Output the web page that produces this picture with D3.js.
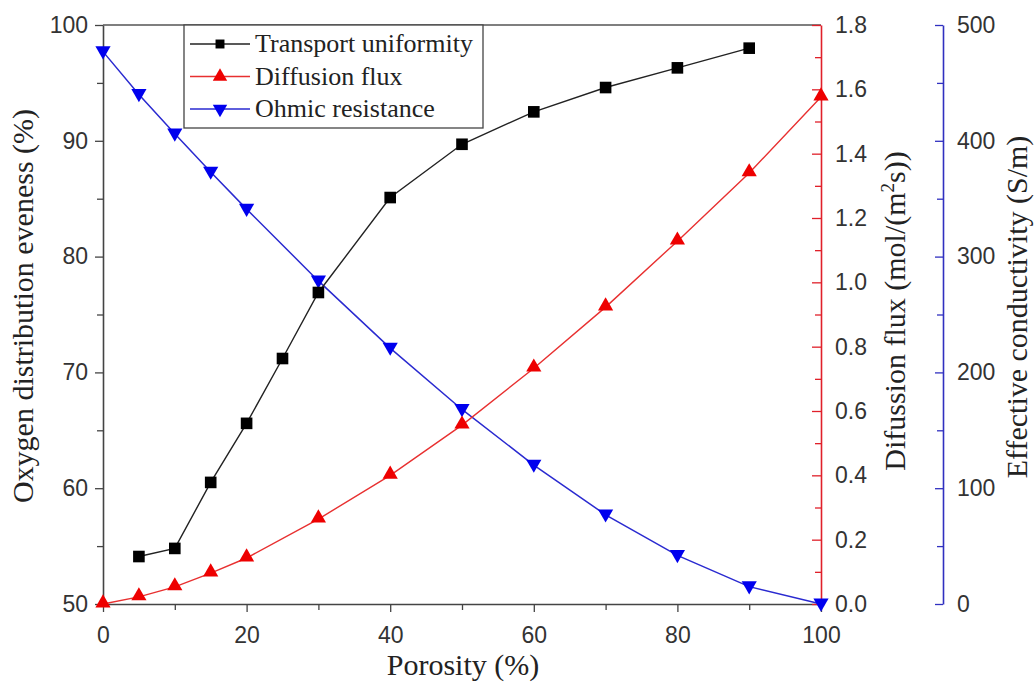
<!DOCTYPE html>
<html>
<head>
<meta charset="utf-8">
<script src="https://cdn.jsdelivr.net/npm/d3@7"></script>
<style>
  body { margin: 0; background: #fff; }
</style>
</head>
<body>
<div id="chart"></div>
<script>
// data
var porosity     = [5, 10, 15, 20, 25, 30, 40, 50, 60, 70, 80, 90];
var uniformity   = [54.1, 54.8, 60.5, 65.6, 71.2, 76.9, 85.1, 89.7, 92.5, 94.6, 96.3, 98.0];

var porosity2    = [0, 5, 10, 15, 20, 30, 40, 50, 60, 70, 80, 90, 100];
var flux         = [0.0, 0.022, 0.053, 0.096, 0.143, 0.264, 0.40, 0.556, 0.733, 0.923, 1.128, 1.34, 1.576];
var conductivity = [477, 440, 406, 373, 341, 279, 221, 168, 120, 77, 42, 15, 0];

var xTicks = [0, 20, 40, 60, 80, 100];
var names  = ["Transport uniformity", "Diffusion flux", "Ohmic resistance"];

const W = 1034, H = 684;
var pL = 103, pR = 821, pT = 25, pB = 604, blueX = 943;

var svg = d3.select("#chart").append("svg")
  .attr("width", W).attr("height", H);

var x  = d3.scaleLinear().domain([0, 100]).range([pL, pR]);
var yL = d3.scaleLinear().domain([50, 100]).range([pB, pT]);
var yR = d3.scaleLinear().domain([0, 1.8]).range([pB, pT]);
var yB = d3.scaleLinear().domain([0, 500]).range([pB, pT]);

var tickFont = "'Liberation Sans', Arial, sans-serif";
var titleFont = "'Liberation Serif', 'Times New Roman', serif";

// top frame line
svg.append("line")
  .attr("x1", pL).attr("x2", pR).attr("y1", pT).attr("y2", pT)
  .attr("stroke", "#555").attr("stroke-width", 1.6);

// bottom axis
var gx = svg.append("g").attr("transform", "translate(0," + pB + ")")
  .call(d3.axisBottom(x).tickValues(d3.range(0, 101, 10)).tickSize(8).tickSizeOuter(0).tickPadding(15)
    .tickFormat(function(d){ return xTicks.indexOf(d) >= 0 ? d : ""; }));
gx.selectAll(".tick line").attr("y2", function(d){ return xTicks.indexOf(d) >= 0 ? 8 : 6; });

// left axis
var gl = svg.append("g").attr("transform", "translate(" + pL + ",0)")
  .call(d3.axisLeft(yL).tickValues(d3.range(50, 101, 5)).tickSize(8).tickSizeOuter(0)
    .tickFormat(function(d){ return d % 10 === 0 ? d : ""; }));
gl.selectAll(".tick line").attr("x2", function(d){ return d % 10 === 0 ? -8 : -6; });

// red axis, ticks point inward
var gr = svg.append("g").attr("transform", "translate(" + pR + ",0)")
  .call(d3.axisRight(yR).tickValues(d3.range(0, 19).map(function(i){ return i / 10; }))
    .tickSize(0).tickSizeOuter(0).tickPadding(14)
    .tickFormat(function(d, i){ return i % 2 === 0 ? d.toFixed(1) : ""; }));
gr.selectAll(".tick line").attr("x2", function(d, i){ return i % 2 === 0 ? -9 : -6; });

// blue axis
var gb = svg.append("g").attr("transform", "translate(" + blueX + ",0)")
  .call(d3.axisRight(yB).tickValues(d3.range(0, 501, 50))
    .tickSize(0).tickSizeOuter(0).tickPadding(14)
    .tickFormat(function(d){ return d % 100 === 0 ? d : ""; }));
gb.selectAll(".tick line").attr("x2", function(d){ return d % 100 === 0 ? -8 : -6; });

[gx, gl].forEach(function(g){
  g.select(".domain").attr("stroke", "#444").attr("stroke-width", 1.6);
  g.selectAll(".tick line").attr("stroke", "#444").attr("stroke-width", 1.3);
});
gr.select(".domain").attr("stroke", "#e0202a").attr("stroke-width", 1.6);
gr.selectAll(".tick line").attr("stroke", "#e0202a").attr("stroke-width", 1.3);
gb.select(".domain").attr("stroke", "#3030c0").attr("stroke-width", 1.6);
gb.selectAll(".tick line").attr("stroke", "#3030c0").attr("stroke-width", 1.3);

svg.selectAll(".tick text")
  .style("font-family", tickFont).style("font-size", "23px").attr("fill", "#333");
gl.selectAll(".tick text").attr("dx", "-4");

// series
var sq  = d3.symbol().type(d3.symbolSquare).size(135);
var tri = d3.symbol().type(d3.symbolTriangle).size(100);

var black = porosity.map(function(p, i){ return [p, uniformity[i]]; });
var red   = porosity2.map(function(p, i){ return [p, flux[i]]; });
var blue  = porosity2.map(function(p, i){ return [p, conductivity[i]]; });

function drawLine(data, ys, color, w) {
  svg.append("path").datum(data)
    .attr("fill", "none").attr("stroke", color).attr("stroke-width", w)
    .attr("d", d3.line().x(function(d){ return x(d[0]); }).y(function(d){ return ys(d[1]); }));
}
drawLine(blue, yB, "#2a2ad0", 1.5);
drawLine(red, yR, "#e83030", 1.4);
drawLine(black, yL, "#222", 1.4);

svg.selectAll(".mb").data(blue).enter().append("path")
  .attr("d", tri).attr("fill", "#0000ee")
  .attr("transform", function(d){ return "translate(" + x(d[0]) + "," + (yB(d[1]) - 1) + ") rotate(180)"; });
svg.selectAll(".mr").data(red).enter().append("path")
  .attr("d", tri).attr("fill", "#ee0000")
  .attr("transform", function(d){ return "translate(" + x(d[0]) + "," + (yR(d[1]) - 1) + ")"; });
svg.selectAll(".mk").data(black).enter().append("path")
  .attr("d", sq).attr("fill", "#000")
  .attr("transform", function(d){ return "translate(" + x(d[0]) + "," + yL(d[1]) + ")"; });

// legend
var lg = svg.append("g");
lg.append("rect").attr("x", 184).attr("y", pT).attr("width", 299).attr("height", 103)
  .attr("fill", "#fff").attr("stroke", "#444").attr("stroke-width", 1.3);
var legColors = ["#222", "#e83030", "#2a2ad0"];
var legFill = ["#000", "#ee0000", "#0000ee"];
names.forEach(function(n, i){
  var yy = 44 + i * 32.5;
  lg.append("line").attr("x1", 190).attr("x2", 250).attr("y1", yy).attr("y2", yy)
    .attr("stroke", legColors[i]).attr("stroke-width", 1.4);
  var sym = i === 0 ? d3.symbol().type(d3.symbolSquare).size(80) : d3.symbol().type(d3.symbolTriangle).size(90);
  lg.append("path").attr("d", sym).attr("fill", legFill[i])
    .attr("transform", "translate(220," + yy + ")" + (i === 2 ? " rotate(180)" : ""));
  lg.append("text").attr("x", 255).attr("y", yy + 8).text(n)
    .style("font-family", titleFont).style("font-size", "26px").attr("fill", "#222");
});

// axis titles
svg.append("text").attr("x", 463).attr("y", 675).attr("text-anchor", "middle")
  .style("font-family", titleFont).style("font-size", "30px").attr("fill", "#222")
  .text("Porosity (%)");

svg.append("text").attr("transform", "translate(33,306) rotate(-90)")
  .attr("text-anchor", "middle")
  .style("font-family", titleFont).style("font-size", "30px").attr("fill", "#222")
  .text("Oxygen distribution eveness (%)");

var t2 = svg.append("text").attr("transform", "translate(905,311) rotate(-90)")
  .attr("text-anchor", "middle")
  .style("font-family", titleFont).style("font-size", "30px").attr("fill", "#222");
t2.append("tspan").text("Difussion flux (mol/(m");
t2.append("tspan").attr("dy", -11).style("font-size", "19px").text("2");
t2.append("tspan").attr("dy", 11).text("s))");

svg.append("text").attr("transform", "translate(1027,307) rotate(-90)")
  .attr("text-anchor", "middle")
  .style("font-family", titleFont).style("font-size", "30px").attr("fill", "#222")
  .text("Effective conductivity (S/m)");
</script>
</body>
</html>
